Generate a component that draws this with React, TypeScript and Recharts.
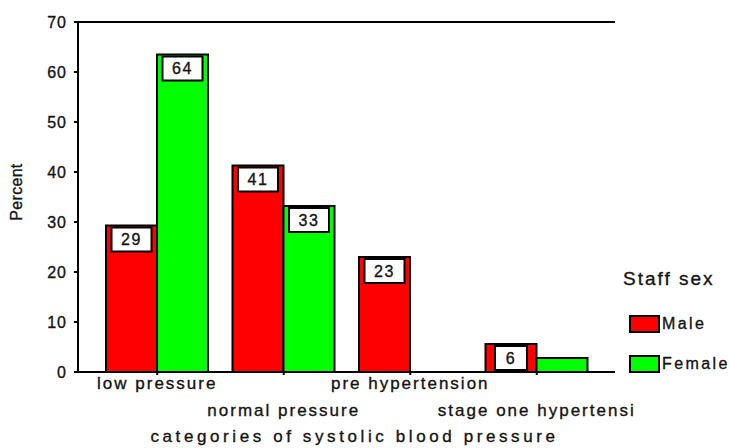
import React from 'react';
import { BarChart, Bar, XAxis, YAxis, ReferenceLine, LabelList, Legend } from 'recharts';

const categories = ['low pressure', 'normal pressure', 'pre hypertension', 'stage one hypertensi'];
const maleValues = [29.3, 41.3, 23.0, 5.6];
const femaleValues = [63.5, 33.2, 0, 2.8];
const yTicks = [0, 10, 20, 30, 40, 50, 60, 70];
const seriesNames = ['Male', 'Female'];
const seriesColors = ['#ff0000', '#00ff00'];
const legendTitle = 'Staff sex';
const xTitle = 'categories of systolic blood pressure';
const yTitle = 'Percent';

const data = categories.map((c, i) => ({ category: c, male: maleValues[i], female: femaleValues[i] }));

const FONT = '"Liberation Sans", Arial, sans-serif';
const INK = '#141414';
const thick = { stroke: INK, strokeWidth: 0.35 } as any;

const XTick = (props: any) => {
  const { x, y, payload } = props;
  const idx = categories.indexOf(payload.value);
  const row = idx % 2;
  return (
    <text
      x={x}
      y={y + (row ? 38 : 11)}
      textAnchor="middle"
      fontFamily={FONT}
      fontSize={17}
      fill={INK}
      {...thick}
      style={{ letterSpacing: '2px' }}
    >
      {payload.value}
    </text>
  );
};

const YTick = (props: any) => {
  const { x, y, payload } = props;
  return (
    <text x={x} y={y} dy="0.36em" textAnchor="end" fontFamily={FONT} fontSize={16} fill={INK} {...thick} style={{ letterSpacing: '1px' }}>
      {payload.value}
    </text>
  );
};

const renderValueLabel = (props: any) => {
  const { x, y, width, height, value } = props;
  const nx = Number(x), ny = Number(y), nw = Number(width), nh = Number(height);
  const text = String(Math.round(Number(value)));
  const bw = 24 + 8 * text.length;
  const bh = 24;
  if (!(nh >= bh + 3)) return null;
  const cx = nx + nw / 2;
  return (
    <g>
      <rect x={cx - bw / 2} y={ny + 2} width={bw} height={bh} fill="#ffffff" stroke="#000" strokeWidth={2} />
      <text x={cx} y={ny + 2 + bh / 2} dy="0.36em" textAnchor="middle" fontFamily={FONT} fontSize={16} fill={INK} {...thick} style={{ letterSpacing: '1.5px' }}>
        {text}
      </text>
    </g>
  );
};

const renderLegend = () => {
  return (
    <div style={{ position: 'relative', width: 109, height: 110, fontFamily: FONT, color: INK, WebkitTextStroke: '0.35px #141414' } as any}>
      <div style={{ position: 'absolute', left: 3, top: 1, fontSize: 19, lineHeight: '19px', letterSpacing: '2px', whiteSpace: 'nowrap' }}>
        {legendTitle}
      </div>
      {seriesNames.map((name, i) => (
        <React.Fragment key={name}>
          <div
            style={{
              position: 'absolute',
              left: 9,
              top: 47 + i * 40,
              width: 31,
              height: 18,
              boxSizing: 'border-box',
              border: '2px solid #000',
              background: seriesColors[i],
            }}
          />
          <div style={{ position: 'absolute', left: 42, top: 48 + i * 40, fontSize: 16, lineHeight: '16px', letterSpacing: '2.4px', whiteSpace: 'nowrap' }}>
            {name}
          </div>
        </React.Fragment>
      ))}
    </div>
  );
};

const XTitle = (props: any) => {
  const vb = props.viewBox || { x: 78, y: 372, width: 537 };
  return (
    <text x={vb.x + vb.width / 2 + 8} y={vb.y + 70} textAnchor="middle" fontFamily={FONT} fontSize={17} fill={INK} {...thick} style={{ letterSpacing: '3.6px' }}>
      {xTitle}
    </text>
  );
};

const YTitle = (props: any) => {
  const vb = props.viewBox || { x: 0, y: 22, width: 78, height: 350 };
  const cx = 22;
  const cy = vb.y + vb.height / 2 - 5;
  return (
    <text x={cx} y={cy} textAnchor="middle" transform={`rotate(-90, ${cx}, ${cy})`} fontFamily={FONT} fontSize={16} fill={INK} {...thick} style={{ letterSpacing: '0.3px' }}>
      {yTitle}
    </text>
  );
};

export default function App() {
  return (
    <div style={{ position: 'absolute', left: 0, top: 0, width: 729, height: 448, background: '#fff' }}>
      <BarChart
        width={729}
        height={448}
        data={data}
        margin={{ top: 22, right: 114, bottom: 0, left: 0 }}
        barCategoryGap={12}
        barGap={0}
      >
        <XAxis
          dataKey="category"
          height={76}
          padding={{ left: 16, right: 15 }}
          interval={0}
          axisLine={{ stroke: '#000', strokeWidth: 2 }}
          tickLine={{ stroke: '#000', strokeWidth: 2 }}
          tickSize={3}
          tickMargin={3}
          tick={<XTick />}
          label={{ content: <XTitle /> } as any}
        />
        <YAxis
          width={78}
          domain={[0, 70]}
          ticks={yTicks}
          allowDataOverflow
          axisLine={{ stroke: '#000', strokeWidth: 2 }}
          tickLine={{ stroke: '#000', strokeWidth: 2 }}
          tickSize={4}
          tickMargin={7}
          tick={<YTick />}
          label={{ content: <YTitle /> } as any}
        />
        <YAxis
          yAxisId="right"
          orientation="right"
          width={0}
          domain={[0, 70]}
          tick={false}
          tickLine={false}
          axisLine={{ stroke: '#000', strokeWidth: 2 }}
        />
        <ReferenceLine y={70} stroke="#000" strokeWidth={2} />
        <Legend
          layout="vertical"
          align="center"
          verticalAlign="middle"
          content={renderLegend}
          wrapperStyle={{ position: 'absolute', left: 620, top: 268, width: 109, height: 110 }}
        />
        <Bar dataKey="male" name={seriesNames[0]} fill={seriesColors[0]} stroke="#000" strokeWidth={2} isAnimationActive={false}>
          <LabelList dataKey="male" content={renderValueLabel} />
        </Bar>
        <Bar dataKey="female" name={seriesNames[1]} fill={seriesColors[1]} stroke="#000" strokeWidth={2} isAnimationActive={false}>
          <LabelList dataKey="female" content={renderValueLabel} />
        </Bar>
      </BarChart>
    </div>
  );
}
